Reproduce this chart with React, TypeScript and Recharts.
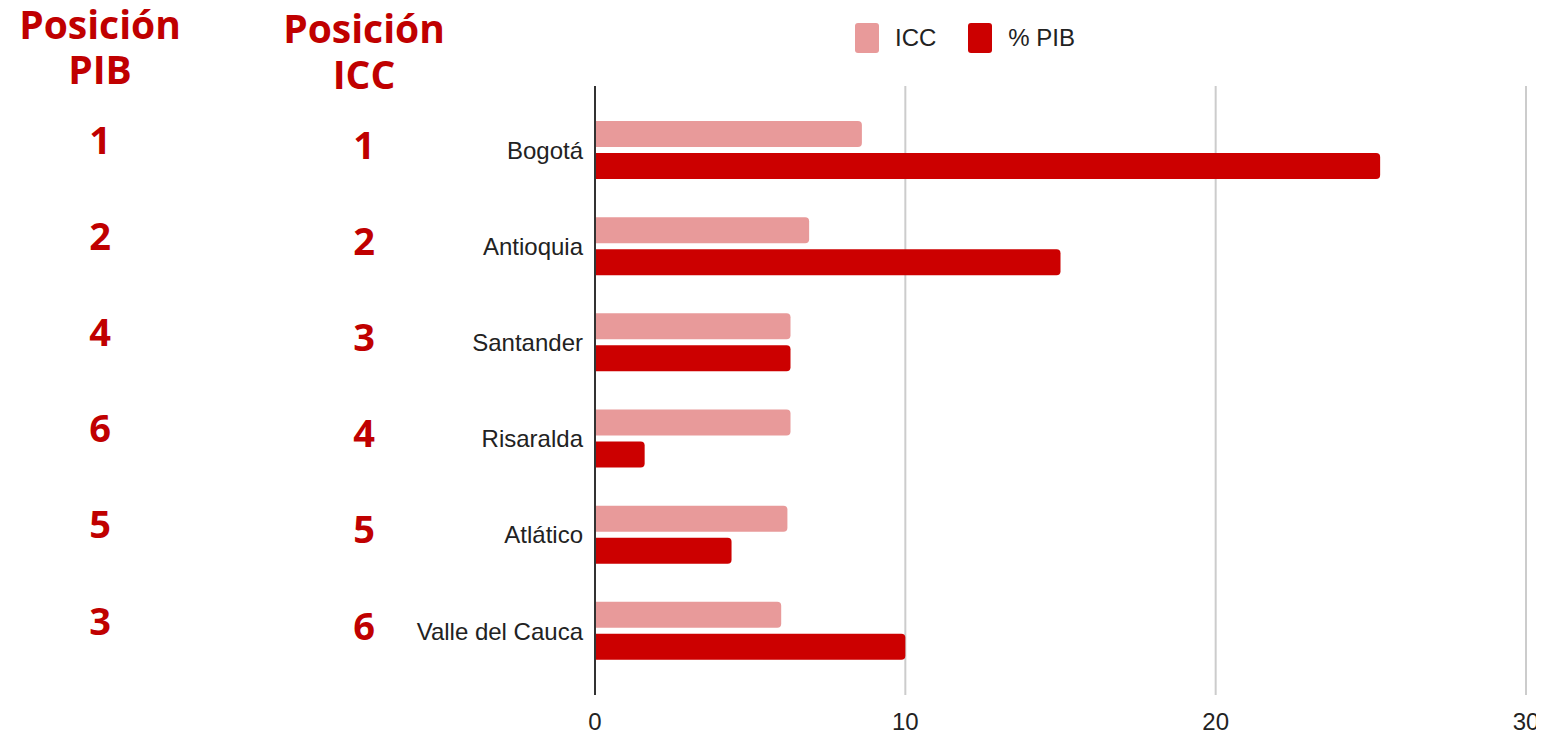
import React from "react";
import { BarChart, Bar, XAxis, YAxis, CartesianGrid } from "recharts";

const regions = ["Bogotá", "Antioquia", "Santander", "Risaralda", "Atlático", "Valle del Cauca"];
const iccValues = [8.6, 6.9, 6.3, 6.3, 6.2, 6.0];
const pibValues = [25.3, 15.0, 6.3, 1.6, 4.4, 10.0];
const pibRank = [1, 2, 4, 6, 5, 3];
const iccRank = [1, 2, 3, 4, 5, 6];
const xTicks = [0, 10, 20, 30];

const ICC_COLOR = "#e89a9a";
const PIB_COLOR = "#cc0000";
const RANK_COLOR = "#c00000";
const LABEL_FONT = "'Liberation Sans', Arial, sans-serif";
const RANK_FONT = "'Open Sans', 'Noto Sans', sans-serif";

const series = [
  { key: "icc", name: "ICC", color: ICC_COLOR },
  { key: "pib", name: "% PIB", color: PIB_COLOR },
];

const data = regions.map((name, i) => ({
  name,
  icc: iccValues[i],
  pib: pibValues[i],
  pibRank: pibRank[i],
  iccRank: iccRank[i],
}));

/** Category tick: region name plus the two rank columns on the far left. */
function RegionTick(props: any) {
  const { x, y, payload, index } = props;
  const row = data[index] ?? data.find((d) => d.name === payload.value);
  return (
    <g>
      <text
        x={100}
        y={y - 10}
        dy="0.36em"
        textAnchor="middle"
        fill={RANK_COLOR}
        fontFamily={RANK_FONT}
        fontWeight={700}
        fontSize={38}
      >
        {row?.pibRank}
      </text>
      <text
        x={364}
        y={y - 5}
        dy="0.36em"
        textAnchor="middle"
        fill={RANK_COLOR}
        fontFamily={RANK_FONT}
        fontWeight={700}
        fontSize={38}
      >
        {row?.iccRank}
      </text>
      <text x={x} y={y} dy="0.36em" textAnchor="end" fill="#222" fontFamily={LABEL_FONT} fontSize={24}>
        {payload.value}
      </text>
    </g>
  );
}

const headStyle: React.CSSProperties = {
  position: "absolute",
  color: RANK_COLOR,
  fontFamily: RANK_FONT,
  fontWeight: 700,
  fontSize: 39,
  lineHeight: "40px",
  textAlign: "center",
  width: 220,
  whiteSpace: "nowrap",
};

export default function App() {
  return (
    <div style={{ position: "relative", width: 1544, height: 738, margin: -8, background: "#fff" }}>
      {/* column headers */}
      <div style={{ ...headStyle, left: -10, top: 4 }}>Posición</div>
      <div style={{ ...headStyle, left: -10, top: 49 }}>PIB</div>
      <div style={{ ...headStyle, left: 254, top: 8 }}>Posición</div>
      <div style={{ ...headStyle, left: 254, top: 54 }}>ICC</div>

      {/* legend */}
      <div
        style={{
          position: "absolute",
          left: 855,
          top: 23,
          display: "flex",
          alignItems: "center",
          fontFamily: LABEL_FONT,
          fontSize: 24,
          color: "#222",
        }}
      >
        {series.map((s) => (
          <span key={s.key} style={{ display: "flex", alignItems: "center", marginRight: 32 }}>
            <span
              style={{
                display: "inline-block",
                width: 24,
                height: 30,
                borderRadius: 3,
                background: s.color,
                marginRight: 16,
              }}
            />
            {s.name}
          </span>
        ))}
      </div>

      <BarChart
        width={1544}
        height={738}
        data={data}
        layout="vertical"
        margin={{ top: 86, right: 18, bottom: 0, left: 0 }}
        barGap={6}
      >
        <CartesianGrid horizontal={false} vertical={true} stroke="#cccccc" strokeWidth={2} />
        <XAxis
          type="number"
          domain={[0, 30]}
          ticks={xTicks}
          axisLine={false}
          tickLine={false}
          tickMargin={12}
          height={43}
          tick={{ fontSize: 24, fill: "#222", fontFamily: LABEL_FONT }}
        />
        <YAxis
          type="category"
          dataKey="name"
          width={595}
          padding={{ top: 16, bottom: 16 }}
          axisLine={{ stroke: "#333", strokeWidth: 2 }}
          tickLine={false}
          tickMargin={6}
          interval={0}
          tick={<RegionTick />}
        />
        {series.map((s) => (
          <Bar
            key={s.key}
            dataKey={s.key}
            name={s.name}
            fill={s.color}
            barSize={26}
            radius={[0, 4, 4, 0]}
            isAnimationActive={false}
          />
        ))}
      </BarChart>
    </div>
  );
}
